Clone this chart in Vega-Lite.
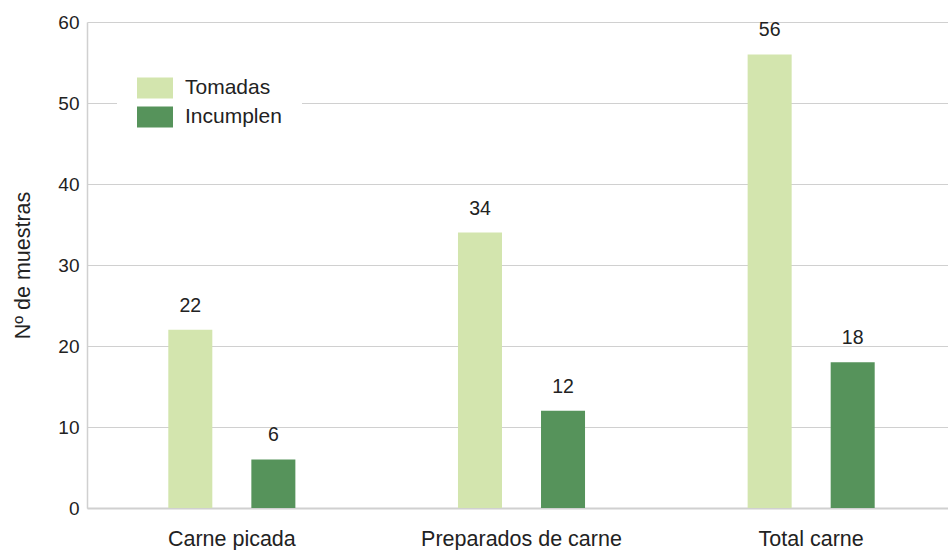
{
  "$schema": "https://vega.github.io/schema/vega-lite/v6.json",
  "width": 869,
  "height": 486,
  "autosize": {"type": "none"},
  "padding": {"left": 87, "top": 22, "right": 0, "bottom": 42},
  "background": "white",
  "config": {
    "font": "Liberation Sans",
    "view": {"stroke": null}
  },
  "data": {
    "values": [
      {"categoria": "Carne picada", "serie": "Tomadas", "valor": 22},
      {"categoria": "Carne picada", "serie": "Incumplen", "valor": 6},
      {"categoria": "Preparados de carne", "serie": "Tomadas", "valor": 34},
      {"categoria": "Preparados de carne", "serie": "Incumplen", "valor": 12},
      {"categoria": "Total carne", "serie": "Tomadas", "valor": 56},
      {"categoria": "Total carne", "serie": "Incumplen", "valor": 18}
    ]
  },
  "encoding": {
    "x": {
      "field": "categoria",
      "type": "nominal",
      "sort": ["Carne picada", "Preparados de carne", "Total carne"],
      "scale": {"paddingInner": 0, "paddingOuter": 0},
      "axis": {
        "title": null,
        "labelAngle": 0,
        "labelFontSize": 21.5,
        "labelLimit": 0,
        "labelColor": "#222222",
        "labelPadding": 20,
        "ticks": false,
        "domainColor": "#d0d0d0",
        "domainWidth": 2
      }
    },
    "xOffset": {
      "field": "serie",
      "type": "nominal",
      "sort": ["Tomadas", "Incumplen"],
      "scale": {"paddingInner": 0.47, "paddingOuter": 0.979}
    },
    "y": {
      "field": "valor",
      "type": "quantitative",
      "scale": {"domain": [0, 60], "nice": false},
      "axis": {
        "title": "Nº de muestras",
        "titleFontSize": 21.5,
        "titleFontWeight": "normal",
        "titleColor": "#222222",
        "titlePadding": 23,
        "values": [0, 10, 20, 30, 40, 50, 60],
        "labelFontSize": 19,
        "labelColor": "#222222",
        "labelPadding": 8,
        "ticks": false,
        "gridColor": "#d0d0d0",
        "gridWidth": 1.2,
        "domainColor": "#d0d0d0",
        "domainWidth": 1.5
      }
    }
  },
  "layer": [
    {
      "mark": {"type": "bar"},
      "encoding": {
        "color": {
          "field": "serie",
          "type": "nominal",
          "sort": ["Tomadas", "Incumplen"],
          "scale": {"domain": ["Tomadas", "Incumplen"], "range": ["#d3e5ae", "#56935b"]},
          "legend": {
            "title": null,
            "orient": "none",
            "legendX": 30,
            "legendY": 28,
            "fillColor": "white",
            "padding": 20,
            "labelFontSize": 21,
            "labelColor": "#222222",
            "labelOffset": 12,
            "rowPadding": -9,
            "symbolType": "M-1,-0.58H1V0.58H-1Z",
            "symbolSize": 1296,
            "symbolStrokeWidth": 0,
            "symbolOpacity": 1
          }
        }
      }
    },
    {
      "mark": {"type": "text", "baseline": "middle", "dy": -24, "fontSize": 19.5, "color": "#222222"},
      "encoding": {
        "text": {"field": "valor", "type": "quantitative"}
      }
    }
  ]
}
